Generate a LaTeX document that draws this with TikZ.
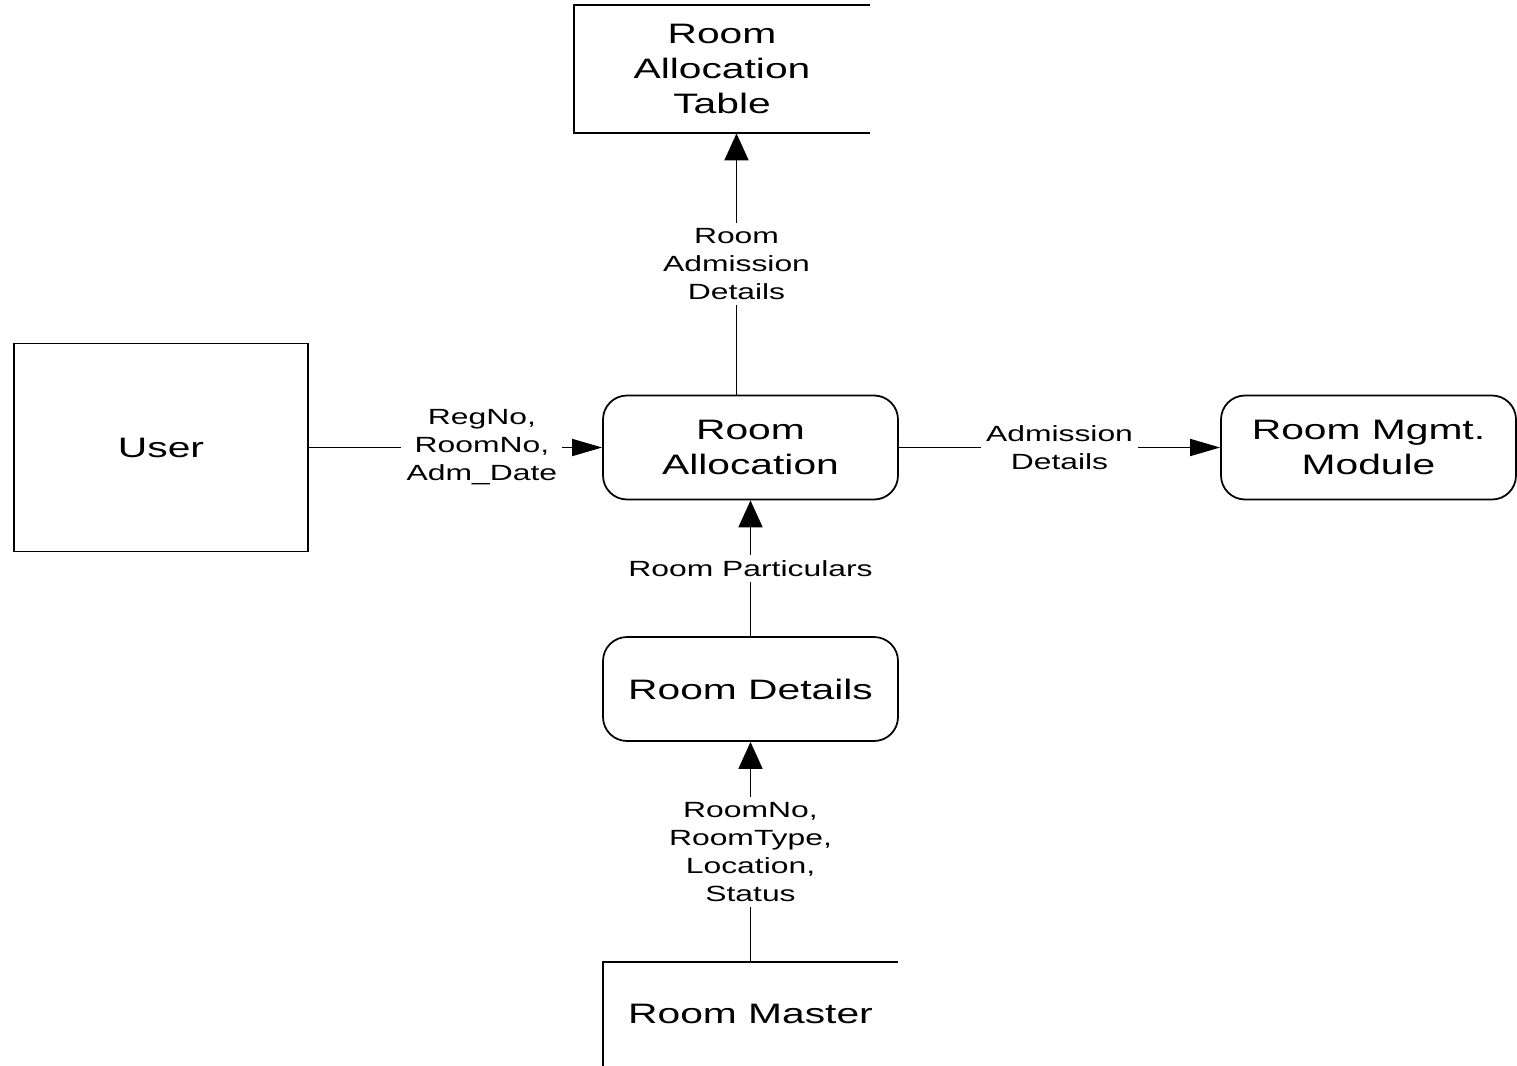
\documentclass[tikz,border=0pt]{standalone}
\usepackage{fontspec}
\setmainfont[FakeStretch=1.45]{Liberation Sans}
\usetikzlibrary{arrows.meta,positioning}

\begin{document}
\begin{tikzpicture}[
            proc/.style={draw, line width=1pt, rounded corners=0.48cm,
                minimum width=5.9cm, minimum height=2.08cm, align=center,
                font=\fontsize{16}{20}\selectfont},
            ent/.style={draw, line width=1pt, minimum width=5.88cm,
                minimum height=4.16cm, font=\fontsize{16}{20}\selectfont},
            store/.style={minimum width=5.92cm, minimum height=2.56cm,
                align=center, font=\fontsize{16}{20}\selectfont},
            flow/.style={line width=1pt},
            flowh/.style={flow, -{Triangle[length=0.6cm,width=0.34cm]}},
            flowv/.style={flow, -{Triangle[length=0.54cm,width=0.48cm]}},
            lbl/.style={fill=white, inner sep=3pt, align=center,
                font=\fontsize{12.5}{16}\selectfont}
        ]
            \useasboundingbox (0,0) rectangle (30.34,-21.3);

            \node[store] (table) at (14.44,-1.38) {Room\\Allocation\\Table};
            \draw[flow] (table.north east) -- (table.north west)
                -- (table.south west) -- (table.south east);
            \node[ent] (user) at (3.22,-8.95) {User};
            \node[proc] (alloc) at (15.01,-8.95) {Room\\Allocation};
            \node[proc] (mgmt) at (27.37,-8.95) {Room Mgmt.\\Module};
            \node[proc] (details) at (15.01,-13.78) {Room Details};
            \node[store, minimum width=5.9cm, minimum height=2.08cm]
                (master) at (15.01,-20.28) {Room Master};
            % bottom edge falls below the page
            \draw[flow] (master.north east) -- (master.north west)
                -- ([yshift=-0.2cm]master.south west)
                -- ([yshift=-0.2cm]master.south east);

            % data flows
            \draw[flowh] (user.east) -- node[lbl, pos=0.59]
                {RegNo,\\RoomNo,\\Adm\_Date} (alloc.west);
            \draw[flowv] ([xshift=-0.28cm]alloc.north) -- node[lbl]
                {Room\\Admission\\Details} ([xshift=-0.28cm]alloc.north |- table.south);
            \draw[flowh] (alloc.east) -- node[lbl] {Admission\\Details} (mgmt.west);
            \draw[flowv] (details.north) -- node[lbl] {Room Particulars} (alloc.south);
            \draw[flowv] (master.north) -- node[lbl]
                {RoomNo,\\RoomType,\\Location,\\Status} (details.south);
        \end{tikzpicture}
\end{document}
